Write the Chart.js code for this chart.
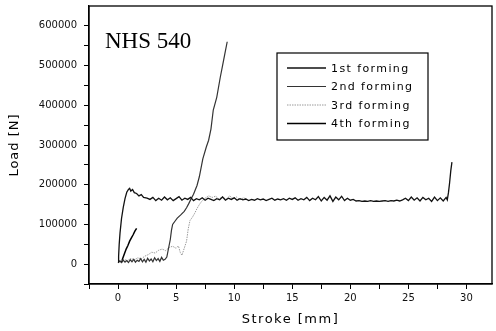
<!DOCTYPE html>
<html>
<head>
<meta charset="utf-8">
<script src="https://cdn.jsdelivr.net/npm/chart.js@4/dist/chart.umd.min.js"></script>
<style>
  html, body { margin: 0; padding: 0; background: #fff; }
  #wrap { width: 496px; height: 331px; }
</style>
</head>
<body>
<div id="wrap"><canvas id="c"></canvas></div>
<script>
// stroke [mm] / load [N] for each forming step
const stroke1 = [0, 0.05, 0.1, 0.17, 0.3, 0.45, 0.6, 0.75, 0.9, 1.0, 1.1, 1.25, 1.4, 1.6, 1.8, 2.0, 2.2, 2.5,
  2.75, 3.0, 3.25, 3.5, 3.75, 4.0, 4.25, 4.5, 4.75, 5.0, 5.25, 5.5, 5.75, 6.0, 6.25, 6.5, 6.75, 7.0, 7.25, 7.5, 7.75,
  8.0, 8.25, 8.5, 8.75, 9.0, 9.25, 9.5, 9.75, 10.0, 10.25, 10.5, 10.75, 11.0, 11.25, 11.5, 11.75, 12.0, 12.25, 12.5,
  12.75, 13.0, 13.25, 13.5, 13.75, 14.0, 14.25, 14.5, 14.75, 15.0, 15.25, 15.5, 15.75, 16.0, 16.25, 16.5, 16.75,
  17.0, 17.25, 17.5, 17.75, 18.0, 18.25, 18.5, 18.75, 19.0, 19.25, 19.5, 19.75, 20.0, 20.25, 20.5, 20.75, 21.0,
  21.25, 21.5, 21.75, 22.0, 22.25, 22.5, 22.75, 23.0, 23.25, 23.5, 23.75, 24.0, 24.25, 24.5, 24.75, 25.0, 25.25,
  25.5, 25.75, 26.0, 26.25, 26.5, 26.75, 27.0, 27.25, 27.5, 27.75, 28.0, 28.25, 28.35, 28.45, 28.55, 28.65, 28.75];
const load1 = [5000, 20000, 50000, 78000, 115000, 143000, 165000, 181000, 188000, 191000, 184000, 188000, 180000, 178000, 172000, 175000, 168000, 166000,
  163000, 168000, 160000, 166000, 161000, 169000, 162000, 167000, 160000, 165000, 170000, 161000, 166000, 163000, 168000, 160000, 165000, 162000, 167000, 161000, 166000,
  163000, 160000, 165000, 162000, 169000, 161000, 166000, 163000, 167000, 161000, 165000, 162000, 164000, 160000, 163000, 161000, 165000, 162000, 164000,
  160000, 163000, 166000, 161000, 164000, 162000, 165000, 161000, 166000, 163000, 167000, 161000, 165000, 162000, 168000, 160000, 166000,
  162000, 170000, 159000, 168000, 161000, 172000, 158000, 169000, 162000, 171000, 160000, 166000, 161000, 163000, 159000, 160000, 158000,
  159000, 158000, 160000, 158000, 159000, 158000, 159000, 160000, 158000, 160000, 159000, 161000, 159000, 162000, 166000, 160000, 169000,
  161000, 167000, 159000, 168000, 162000, 166000, 158000, 169000, 160000, 167000, 159000, 168000, 162000, 180000, 205000, 235000, 257000];

const stroke2 = [0, 0.15, 0.3, 0.45, 0.6, 0.75, 0.9, 1.05, 1.2, 1.35, 1.5, 1.65, 1.8, 1.95, 2.1, 2.25, 2.4, 2.55, 2.7, 2.85,
  3.0, 3.15, 3.3, 3.45, 3.6, 3.75, 3.9, 4.05, 4.2, 4.35, 4.5, 4.6, 4.7, 4.9, 5.1, 5.4, 5.7, 5.9, 6.1, 6.3, 6.5, 6.8,
  7.0, 7.3, 7.6, 7.8, 8.0, 8.2, 8.5, 8.8, 9.0, 9.2, 9.4];
const load2 = [3000, 8000, 4000, 10000, 5000, 9000, 4000, 11000, 6000, 12000, 5000, 10000, 7000, 14000, 6000, 12000, 5000, 15000, 8000, 13000,
  6000, 16000, 9000, 14000, 7000, 17000, 10000, 12000, 18000, 40000, 62000, 85000, 100000, 108000, 116000, 124000, 133000, 142000, 153000, 165000, 176000, 198000,
  220000, 265000, 295000, 312000, 340000, 388000, 420000, 470000, 500000, 530000, 560000];

const stroke3 = [0.2, 0.5, 0.8, 1.1, 1.4, 1.7, 2.0, 2.3, 2.6, 2.9, 3.2, 3.5, 3.8, 4.1, 4.4, 4.7, 5.0, 5.2, 5.35, 5.5,
  5.7, 5.9, 6.05, 6.2, 6.4, 6.6, 6.8, 7.0, 7.2, 7.5, 7.8, 8.1, 8.4, 8.7, 9.0, 9.3, 9.6, 9.9, 10.2, 10.5, 10.8, 11.1];
const load3 = [8000, 12000, 9000, 14000, 11000, 16000, 13000, 20000, 24000, 30000, 28000, 35000, 38000, 34000, 42000, 45000, 40000, 46000, 30000, 22000,
  40000, 58000, 90000, 110000, 118000, 128000, 140000, 150000, 158000, 166000, 172000, 168000, 171000, 164000, 170000, 163000, 172000, 165000, 169000, 162000, 167000, 164000];

const stroke4 = [0.3, 0.4, 0.55, 0.7, 0.85, 1.0, 1.15, 1.3, 1.45, 1.6];
const load4 = [5000, 14000, 26000, 38000, 47000, 58000, 66000, 74000, 83000, 90000];

const seriesNames = ["1st forming", "2nd forming", "3rd forming", "4th forming"];
const strokeTicks = [-2.5, 0, 2.5, 5, 7.5, 10, 12.5, 15, 17.5, 20, 22.5, 25, 27.5, 30];
const loadTicks = [-50000, 0, 50000, 100000, 150000, 200000, 250000, 300000, 350000, 400000, 450000, 500000, 550000, 600000];

const toPoints = (xs, ys) => xs.map((x, i) => ({ x: x, y: ys[i] }));

const colors = ["#111", "#333", "#9a9a9a", "#000"];
const widths = [1.3, 1.2, 1, 1.5];

// frame, "NHS 540" label, legend box and axis titles
const decorations = {
  id: "decorations",
  afterDraw(chart) {
    const ctx = chart.ctx
    const a = chart.chartArea
    ctx.save()
    ctx.strokeStyle = "#000"
    ctx.lineWidth = 1.3
    ctx.strokeRect(a.left, a.top, a.right - a.left, a.bottom - a.top)

    ctx.fillStyle = "#000"
    ctx.font = "23px 'Liberation Serif'"
    ctx.textBaseline = "alphabetic"
    ctx.fillText("NHS 540", 105, 48)

    // legend
    ctx.lineWidth = 1.2
    ctx.strokeRect(277, 53, 151, 87)
    ctx.font = "11px 'DejaVu Sans'"
    ctx.letterSpacing = "1.4px"
    ctx.textBaseline = "middle"
    const rows = [68, 86.5, 105, 123.5]
    chart.data.datasets.forEach((ds, i) => {
      ctx.beginPath()
      ctx.strokeStyle = ds.borderColor
      ctx.lineWidth = ds.borderWidth
      if (ds.borderDash) ctx.setLineDash(ds.borderDash)
      ctx.moveTo(287, rows[i])
      ctx.lineTo(326, rows[i])
      ctx.stroke()
      ctx.setLineDash([])
      ctx.fillStyle = "#000"
      ctx.fillText(ds.label, 331, rows[i] + 1)
    })

    // axis titles
    ctx.font = "13px 'DejaVu Sans'"
    ctx.letterSpacing = "1.5px"
    ctx.textAlign = "center"
    ctx.fillText("Stroke [mm]", (a.left + a.right) / 2, 320)
    ctx.translate(15, (a.top + a.bottom) / 2)
    ctx.rotate(-Math.PI / 2)
    ctx.letterSpacing = "1px"
    ctx.fillText("Load [N]", 0, 0)
    ctx.restore()
  }
}

const tickFont = { family: "DejaVu Sans", size: 10 }

new Chart(document.getElementById("c"), {
  type: "scatter",
  data: {
    datasets: [
      { label: seriesNames[0], data: toPoints(stroke1, load1) },
      { label: seriesNames[1], data: toPoints(stroke2, load2) },
      { label: seriesNames[2], data: toPoints(stroke3, load3), borderDash: [1.5, 1] },
      { label: seriesNames[3], data: toPoints(stroke4, load4) },
    ].map((ds, i) => Object.assign(ds, {
      showLine: true,
      pointRadius: 0,
      borderColor: colors[i],
      borderWidth: widths[i],
      tension: 0,
    }))
  },
  options: {
    responsive: true,
    maintainAspectRatio: false,
    animation: false,
    layout: { padding: { top: 6, right: 4, left: 0, bottom: 0 } },
    plugins: { legend: { display: false }, tooltip: { enabled: false } },
    scales: {
      x: {
        type: "linear",
        min: -2.5,
        max: 32.2,
        afterBuildTicks: s => { s.ticks = strokeTicks.map(v => ({ value: v })) },
        afterFit: s => { s.height = 47; s.paddingLeft = 0; s.paddingRight = 0 },
        grid: { drawOnChartArea: false, drawTicks: true, tickLength: 5, color: "#000", lineWidth: 1 },
        border: { display: true, color: "#000", width: 1.3 },
        ticks: {
          autoSkip: false,
          maxRotation: 0,
          padding: 3,
          color: "#111",
          font: tickFont,
          callback: v => (v % 5 === 0 ? String(v) : "")
        }
      },
      y: {
        type: "linear",
        min: -50000,
        max: 650000,
        afterBuildTicks: s => { s.ticks = loadTicks.map(v => ({ value: v })) },
        afterFit: s => { s.width = 89; s.paddingTop = 0; s.paddingBottom = 0 },
        grid: { drawOnChartArea: false, drawTicks: true, tickLength: 5, color: "#000", lineWidth: 1 },
        border: { display: true, color: "#000", width: 1.3 },
        ticks: {
          autoSkip: false,
          padding: 7,
          color: "#111",
          font: tickFont,
          callback: v => (v % 100000 === 0 ? String(v) : "")
        }
      }
    }
  },
  plugins: [decorations]
})
</script>
</body>
</html>
